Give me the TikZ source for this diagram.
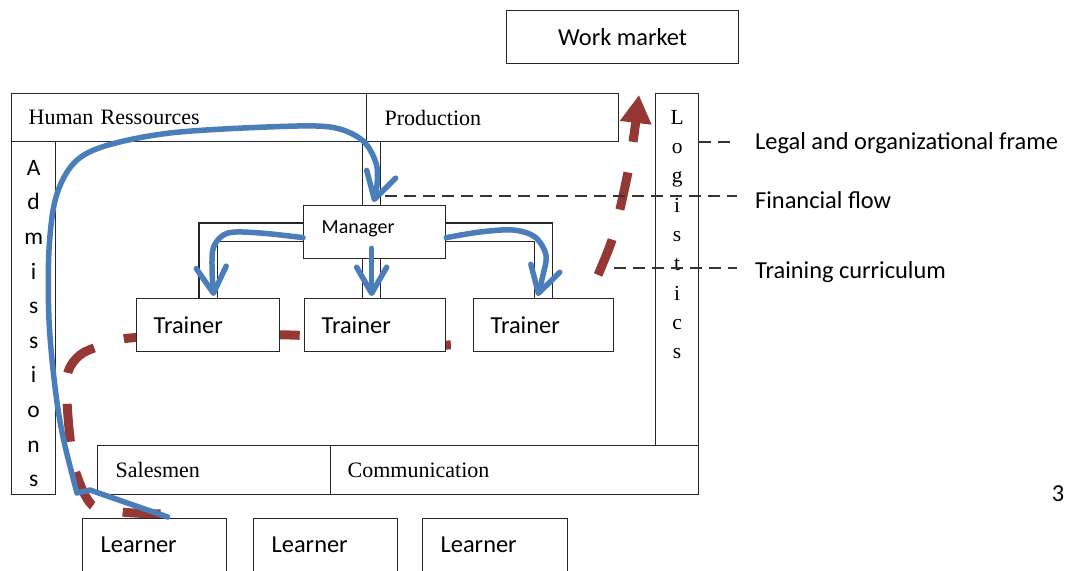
\documentclass[tikz,border=0pt]{standalone}
\usepackage{fontspec}
\setmainfont{Carlito}
\newfontfamily\tnr{Liberation Serif}
\usetikzlibrary{arrows.meta,calc}
\pgfdeclarelayer{background}
\pgfsetlayers{background,main}
\definecolor{flowblue}{HTML}{4A7EBB}
\definecolor{flowred}{HTML}{953735}
\begin{document}
\begin{tikzpicture}[x=1pt,y=-1pt,
  box/.style={draw=black!85, line width=1.3pt, fill=white, inner ysep=0pt, anchor=north west, align=left},
  lb/.style n args={3}{minimum width=#1pt, text width=#2pt, inner xsep=#3pt},
  sanslbl/.style={font=\fontsize{24.4}{29}\selectfont},
  seriflbl/.style={font=\tnr\fontsize{22}{26}\selectfont},
  dbl/.style={draw=black!85, line width=1.3pt, double=white, double distance=17pt},
  legdash/.style={draw=black!80, line width=1.3pt, dash pattern=on 12pt off 7pt},
  bluearrow/.style={draw=flowblue, line width=5.5pt, line join=round, line cap=round,
     -{Straight Barb[length=26pt,width=30pt,round]}},
  redline/.style={draw=flowred, line width=9pt, dash pattern=on 38pt off 31pt},
  redtip/.style={-{Triangle[length=28pt,width=30pt]}}]
\useasboundingbox (0,0) rectangle (1065,570);
\clip (0,0) rectangle (1065,570);

% top boxes
\node[box, sanslbl, minimum width=232pt, minimum height=53pt] (WM) at (506,10) {Work market};
\node[box, seriflbl, lb={355}{321}{17}, minimum height=48pt] (HR) at (11,93) {Human Ressources};
\node[box, seriflbl, lb={252}{216}{18}, minimum height=48pt] (Prod) at (366,93) {Production};
\node[box, minimum width=43pt, minimum height=353pt] (Log) at (655,93) {};
\node[box, minimum width=44pt, minimum height=353pt] (Adm) at (11,141) {};
\node[font=\tnr\fontsize{21.5}{29.3}\selectfont, align=center, inner sep=0pt, anchor=north] (LogTxt)
  at ($(Log.north)+(0,17)$) {L\\o\\g\\i\\s\\t\\i\\c\\s};
\node[font=\fontsize{23.5}{34.6}\selectfont, align=center, inner sep=0pt, anchor=north] (AdmTxt)
  at ($(Adm.north)+(0,19)$) {A\\d\\m\\i\\s\\s\\i\\o\\n\\s};

% manager and trainers
\node[box, font=\fontsize{20}{24}\selectfont, lb={142}{106}{18}, minimum height=53pt, text height=15pt, text depth=12pt] (Mgr) at (303,205) {Manager};
\node[box, sanslbl, lb={143}{109}{17}, minimum height=53pt] (T1) at (136,298) {Trainer};
\node[box, sanslbl, lb={141}{107}{17}, minimum height=53pt] (T2) at (304,298) {Trainer};
\node[box, sanslbl, lb={140}{106}{17}, minimum height=53pt] (T3) at (473,298) {Trainer};

% bottom band
\node[box, seriflbl, lb={233}{197}{18}, minimum height=49pt] (Sales) at (97,445) {Salesmen};
\node[box, seriflbl, lb={368}{334}{17}, minimum height=49pt] (Comm) at (330,445) {Communication};

% learners
\node[box, sanslbl, lb={144}{108}{18}, minimum height=53pt] (L1) at (82,518) {Learner};
\node[box, sanslbl, lb={144}{108}{18}, minimum height=53pt] (L2) at (253,518) {Learner};
\node[box, sanslbl, lb={145}{109}{18}, minimum height=53pt] (L3) at (422,518) {Learner};

% legend
\node[sanslbl, anchor=base west, inner sep=0pt] (leg1) at (755,149) {Legal and organizational frame};
\node[sanslbl, anchor=base west, inner sep=0pt] (leg2) at (755,208) {Financial flow};
\node[sanslbl, anchor=base west, inner sep=0pt] (leg3) at (755,278) {Training curriculum};
\node[sanslbl, inner sep=0pt] (pg) at (1058,494) {3};

\coordinate (f1) at (737,142);
\coordinate (f2) at (737,196);
\coordinate (f2s) at (385,196);
\coordinate (f3) at (737,268);
\draw[legdash] (Log.east |- f1) -- (f1);
\draw[legdash] (f2s) -- (f2);
\draw[legdash] (T3.east |- f3) -- (f3);

% connectors behind the boxes
\coordinate (pm) at ($(Mgr.north)+(-3,0)$);
\coordinate (ps) at ($(Mgr.south)+(-3,0)$);
\coordinate (r0) at ($(L1.north)+(6,-4)$);
\coordinate (rA) at (380,340);
\coordinate (rMid) at (585,303);
\coordinate (rEnd) at (639,95);
\begin{pgfonlayer}{background}
  \draw[dbl] (pm) -- (pm |- HR.south);
  \draw[dbl] (Mgr.west) -| (T1.north);
  \draw[dbl] (Mgr.east) -| (T3.north);
  \draw[dbl] (ps) -- (ps |- T2.north);
  \draw[redline] plot[smooth, tension=0.55] coordinates {(r0) (122,512) (92,505) (75,470) (70,438) (67,400) (68,372) (80,355) (100,346) (130,338) (210,336) (290,335) (rA)};
  \draw[redline, dash phase=36pt] plot[smooth, tension=0.55] coordinates {(rA) (448,345) (500,338) (545,325) (575,310) (rMid)};
  \draw[redline, redtip, dash phase=38pt] plot[smooth, tension=0.5] coordinates {(rMid) (598,275) (612,240) (620,209) (628,172) (634,135) (rEnd)};
\end{pgfonlayer}

% blue flows on top
\draw[bluearrow] ($(L1.north)+(13,-1)$) -- (90,490) -- plot[smooth, tension=0.55] coordinates {(77,493) (63,437) (55,387) (49,320) (49,250) (56,197) (74,163) (105,146) (170,133) (267,127) (330,127) (362,140) (376,163) (377,185) ($(Mgr.north)+(-1,-3)$)};
\draw[bluearrow] plot[smooth, tension=0.55] coordinates {($(Mgr.west)+(0,5.5)$) (260,233) (228,233) (214,246) (212,268) ($(T1.north)+(5.5,-2)$)};
\draw[bluearrow] plot[smooth, tension=0.55] coordinates {($(Mgr.east)+(0,5.5)$) (480,232) (513,230) (535,237) (546,255) (543,275) ($(T3.north)+(-6,-2)$)};
\draw[bluearrow] ($(Mgr.south)+(-3,-11)$) -- ($(T2.north)+(-3.5,-2)$);
\end{tikzpicture}
\end{document}
